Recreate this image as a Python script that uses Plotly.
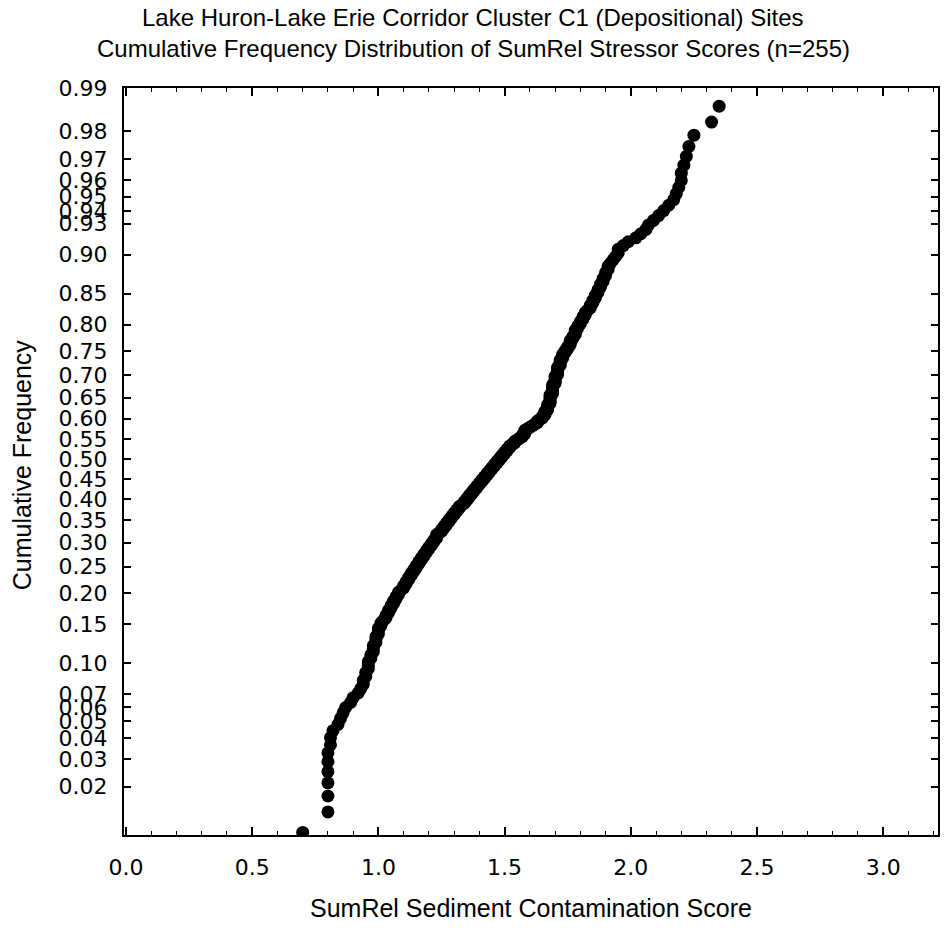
import plotly.graph_objects as go
from statistics import NormalDist

# SumRel sediment contamination scores, sorted ascending (n = 255)
scores = [
    0.70,
    0.80, 0.80, 0.80, 0.80, 0.80, 0.80, 0.81, 0.81,
    0.82, 0.84,
    0.85, 0.86, 0.87,
    0.89, 0.90, 0.92,
    0.93, 0.94, 0.94, 0.95,
    0.95, 0.96, 0.96, 0.96,
    0.97, 0.97, 0.98, 0.98, 0.98, 0.99,
    0.99, 0.99, 1.00, 1.00, 1.00, 1.01,
    1.01, 1.02, 1.03, 1.03, 1.04, 1.04,
    1.05, 1.05, 1.06, 1.06, 1.07, 1.07,
    1.08, 1.08, 1.09, 1.10, 1.10, 1.11, 1.11,
    1.12, 1.12, 1.13, 1.13, 1.14, 1.14, 1.15, 1.15,
    1.16, 1.16, 1.17, 1.17, 1.18, 1.18, 1.19, 1.19,
    1.20, 1.20, 1.21, 1.21, 1.22, 1.22, 1.23, 1.23, 1.23,
    1.24, 1.25, 1.25, 1.26, 1.26, 1.27, 1.27, 1.28, 1.28,
    1.29, 1.29, 1.30, 1.30, 1.31, 1.31, 1.32, 1.32, 1.33,
    1.34, 1.34, 1.35, 1.35, 1.36, 1.36, 1.37, 1.37, 1.38,
    1.38, 1.39, 1.39, 1.40, 1.40, 1.41, 1.41, 1.42, 1.42, 1.43,
    1.43, 1.44, 1.44, 1.45, 1.45, 1.46, 1.46, 1.47, 1.47, 1.48,
    1.48, 1.49, 1.49, 1.50, 1.50, 1.51, 1.51, 1.52, 1.52,
    1.53, 1.54, 1.54, 1.55, 1.56, 1.57, 1.57, 1.58, 1.58, 1.58,
    1.59, 1.60, 1.61, 1.62, 1.63, 1.63, 1.64, 1.65, 1.65, 1.66,
    1.66, 1.66, 1.67, 1.67, 1.67, 1.67, 1.68, 1.68, 1.68,
    1.68, 1.68, 1.68, 1.69, 1.69, 1.69, 1.69, 1.69, 1.69,
    1.70, 1.70, 1.70, 1.70, 1.70, 1.71, 1.71, 1.71, 1.71,
    1.71, 1.72, 1.72, 1.72, 1.72, 1.73, 1.73, 1.73,
    1.74, 1.74, 1.75, 1.75, 1.76, 1.76, 1.76,
    1.77, 1.77, 1.78, 1.78, 1.78, 1.79, 1.79,
    1.80, 1.80, 1.81, 1.81, 1.82, 1.82, 1.83,
    1.84, 1.84, 1.85, 1.85, 1.86, 1.86,
    1.87, 1.87, 1.88, 1.88, 1.89,
    1.89, 1.90, 1.90, 1.91, 1.91,
    1.92, 1.93, 1.94, 1.95, 1.95,
    1.97, 1.99,
    2.02, 2.04, 2.06, 2.07,
    2.09, 2.11, 2.13,
    2.15, 2.17, 2.18,
    2.19, 2.20, 2.20,
    2.21, 2.22, 2.23,
    2.25, 2.32, 2.35,
]

# Probability-axis tick labels
prob_ticks = [0.02, 0.03, 0.04, 0.05, 0.06, 0.07, 0.10, 0.15, 0.20, 0.25,
              0.30, 0.35, 0.40, 0.45, 0.50, 0.55, 0.60, 0.65, 0.70, 0.75,
              0.80, 0.85, 0.90, 0.93, 0.94, 0.95, 0.96, 0.97, 0.98, 0.99]
x_ticks = [0.0, 0.5, 1.0, 1.5, 2.0, 2.5, 3.0]

nd = NormalDist()
n = len(scores)
# rank-based plotting positions of the cumulative frequency, drawn on a normal-probability scale
cum_freq = [(i + 1.5) / (n + 5) for i in range(1, n + 1)]
z = [nd.inv_cdf(p) for p in cum_freq]

tick_font = dict(family="DejaVu Sans", size=22, color="black")
title_font = dict(family="Liberation Sans, Arial", size=24, color="black")
axis_title_font = dict(family="Liberation Sans, Arial", size=25, color="black")

fig = go.Figure(go.Scatter(
    x=scores, y=z, mode="markers",
    marker=dict(size=13, color="black", line=dict(width=0)),
    hoverinfo="x+text", text=[f"{p:.3f}" for p in cum_freq],
))

L, R, T, B = 124, 4, 88, 95
W, H = 944, 930
pw, ph = W - L - R, H - T - B

fig.update_layout(
    width=W, height=H,
    margin=dict(l=L, r=R, t=T, b=B),
    paper_bgcolor="white", plot_bgcolor="white",
    showlegend=False,
    xaxis=dict(
        range=[-0.008, 3.217], tickvals=x_ticks, ticktext=[f"{v:.1f}" for v in x_ticks],
        ticks="inside", ticklen=8, tickwidth=1.5, tickcolor="black",
        minor=dict(dtick=0.1, ticks="inside", ticklen=4, tickcolor="black", tickwidth=1),
        showline=True, linecolor="black", linewidth=2, mirror="ticks",
        showgrid=False, zeroline=False, tickfont=tick_font, ticklabelstandoff=12,
    ),
    yaxis=dict(
        range=[nd.inv_cdf(0.0092), nd.inv_cdf(0.99)],
        tickvals=[nd.inv_cdf(p) for p in prob_ticks],
        ticktext=[f"{p:.2f}" for p in prob_ticks],
        ticks="inside", ticklen=7, tickwidth=1.5, tickcolor="black",
        showline=True, linecolor="black", linewidth=2, mirror="ticks",
        showgrid=False, zeroline=False, tickfont=tick_font, ticklabelstandoff=10,
    ),
    annotations=[
        dict(text="Lake Huron-Lake Erie Corridor Cluster C1 (Depositional) Sites",
             xref="paper", yref="paper", x=(474 - L) / pw, y=(H - B - 18) / ph,
             xanchor="center", yanchor="middle", showarrow=False, font=title_font),
        dict(text="Cumulative Frequency Distribution of SumRel Stressor Scores (n=255)",
             xref="paper", yref="paper", x=(474 - L) / pw, y=(H - B - 48) / ph,
             xanchor="center", yanchor="middle", showarrow=False, font=title_font),
        dict(text="SumRel Sediment Contamination Score",
             xref="paper", yref="paper", x=0.5, y=(H - B - 908) / ph,
             xanchor="center", yanchor="middle", showarrow=False, font=axis_title_font),
        dict(text="Cumulative Frequency", textangle=-90,
             xref="paper", yref="paper", x=(22 - L) / pw, y=(H - B - 465) / ph,
             xanchor="center", yanchor="middle", showarrow=False, font=axis_title_font),
    ],
)

fig.write_html("out.html")
